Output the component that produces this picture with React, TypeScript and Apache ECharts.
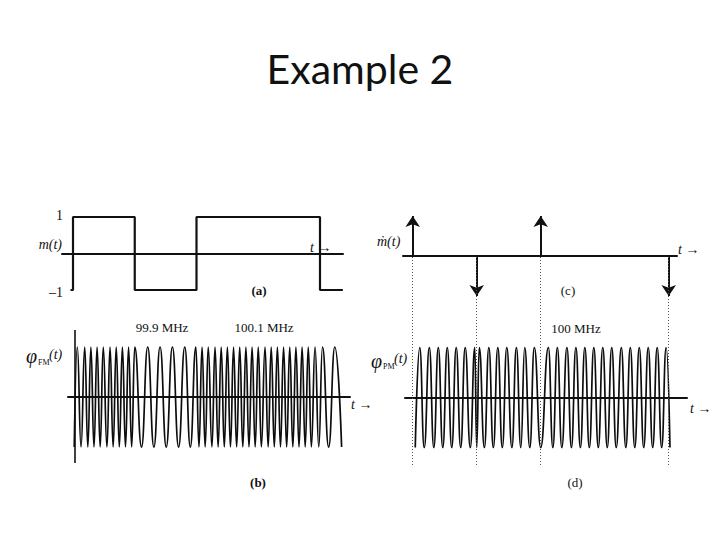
import React, { useEffect, useRef } from "react";
import * as echarts from "echarts";

// ---- Data (time in units of the message's half-period) ----
// (a) message m(t): step points (time, level)
const squareT = [-0.04, 0, 1, 2, 4, 4.37];
const squareM = [-1, 1, -1, 1, -1, -1];

// (c) derivative of m(t): impulses
const impulseT = [0, 1, 2, 4];
const impulseH = [1, -1, 1, -1];

// (b) FM waveform: times of crests (+1) and troughs (-1)
const fmTops = [
  0.07, 0.19, 0.29, 0.39, 0.49, 0.6, 0.7, 0.8, 0.9, 1.0,
  1.21, 1.41, 1.61, 1.81, 1.99,
  2.09, 2.19, 2.3, 2.4, 2.5, 2.6, 2.7, 2.8, 2.9, 3.0, 3.11, 3.21, 3.31, 3.41, 3.51, 3.61, 3.71, 3.81, 3.92,
  4.04, 4.24,
];
const fmBottoms = [
  0.02, 0.13, 0.24, 0.34, 0.44, 0.55, 0.65, 0.75, 0.85, 0.95,
  1.11, 1.31, 1.51, 1.71, 1.9,
  2.04, 2.14, 2.25, 2.35, 2.45, 2.55, 2.65, 2.75, 2.85, 2.95, 3.05, 3.16, 3.26, 3.36, 3.46, 3.56, 3.66, 3.76, 3.86, 3.98,
  4.14, 4.35,
];

// (d) PM waveform: times of crests (+1) and troughs (-1)
const pmTops = [
  0.11, 0.26, 0.4, 0.54, 0.68, 0.82, 0.97, 1.04, 1.19, 1.33, 1.47, 1.62, 1.75, 1.9,
  2.12, 2.26, 2.41, 2.55, 2.69, 2.83, 2.97, 3.11, 3.26, 3.4, 3.54, 3.68, 3.82, 3.96,
];
const pmBottoms = [
  0.04, 0.18, 0.33, 0.47, 0.61, 0.75, 0.9, 1.0, 1.12, 1.26, 1.4, 1.55, 1.69, 1.83,
  2.0, 2.19, 2.33, 2.48, 2.62, 2.76, 2.9, 3.04, 3.18, 3.33, 3.47, 3.61, 3.75, 3.89, 4.02,
];

// text
const titleText = "Example 2";
const fmFreqLabels = ["99.9 MHz", "100.1 MHz"];
const pmFreqLabel = "100 MHz";
const panelLabels = ["(a)", "(b)", "(c)", "(d)"];

// ---- layout helpers ----
const INK = "#111";
const SERIF = "'Liberation Serif', 'DejaVu Serif', serif";

function extremaSeries(tops: number[], bottoms: number[]) {
  const pts: [number, number][] = [
    ...tops.map((t) => [t, 1] as [number, number]),
    ...bottoms.map((t) => [t, -1] as [number, number]),
  ];
  pts.sort((p, q) => p[0] - q[0]);
  return pts;
}

function range(left: number, width: number, origin: number, k: number) {
  return { min: (left - origin) / k, max: (left + width - origin) / k };
}

const L = { origin: 73, k: 61.75 };
const R = { origin: 412.7, k: 64 };

const grids = [
  { left: 62, top: 209.7, width: 281, height: 87.6 }, // a
  { left: 68, top: 330, width: 282, height: 133 }, // b
  { left: 403, top: 210, width: 274, height: 90 }, // c
  { left: 405, top: 256, width: 282, height: 209 }, // d
];
const xr = [
  range(62, 281, L.origin, L.k),
  range(68, 282, L.origin, L.k),
  range(403, 274, R.origin, R.k),
  range(405, 282, R.origin, R.k),
];
const yr = [
  { min: -1.2, max: 1.2 },
  { min: -1.32, max: 1.34 },
  { min: -1.1, max: 1.15 },
  { min: -1.35, max: 2.83 },
];

function txt(
  text: string,
  x: number,
  y: number,
  size: number,
  opts: { align?: string; italic?: boolean; bold?: boolean; family?: string } = {}
) {
  return {
    type: "text",
    x,
    y,
    silent: true,
    style: {
      text,
      fill: INK,
      fontSize: size,
      fontFamily: opts.family || SERIF,
      fontStyle: opts.italic ? "italic" : "normal",
      fontWeight: opts.bold ? "bold" : "normal",
      align: opts.align || "left",
      verticalAlign: "middle",
    },
  };
}

export default function App() {
  const ref = useRef<HTMLDivElement>(null);

  useEffect(() => {
    if (!ref.current) return;
    const chart = echarts.init(ref.current, undefined, { renderer: "svg" });

    const xAxis = grids.map((_, i) => ({
      type: "value",
      gridIndex: i,
      min: xr[i].min,
      max: xr[i].max,
      axisLine: { show: true, onZero: true, lineStyle: { color: INK, width: 2 } },
      axisTick: { show: false },
      axisLabel: { show: false },
      splitLine: { show: false },
    }));
    const yAxis = grids.map((_, i) => ({
      type: "value",
      gridIndex: i,
      min: yr[i].min,
      max: yr[i].max,
      show: false,
      splitLine: { show: false },
    }));

    const option: any = {
      animation: false,
      backgroundColor: "#fff",
      grid: grids,
      xAxis,
      yAxis,
      series: [
        {
          type: "line",
          xAxisIndex: 0,
          yAxisIndex: 0,
          step: "end",
          symbol: "none",
          data: squareT.map((t, i) => [t, squareM[i]]),
          lineStyle: { color: INK, width: 2.2 },
        },
        {
          type: "line",
          xAxisIndex: 1,
          yAxisIndex: 1,
          symbol: "none",
          smooth: true,
          smoothMonotone: "x",
          data: extremaSeries(fmTops, fmBottoms),
          lineStyle: { color: "#0d0d0d", width: 1.7 },
          markLine: {
            silent: true,
            symbol: "none",
            label: { show: false },
            lineStyle: { color: INK, width: 1.6, type: "solid" },
            data: [{ xAxis: 0.03 }],
          },
        },
        {
          type: "lines",
          coordinateSystem: "cartesian2d",
          xAxisIndex: 2,
          yAxisIndex: 2,
          symbol: ["none", "arrow"],
          symbolSize: 11,
          lineStyle: { color: INK, width: 2, opacity: 1 },
          data: impulseT.map((t, i) => ({ coords: [[t, 0], [t, impulseH[i]]] })),
        },
        {
          type: "line",
          xAxisIndex: 3,
          yAxisIndex: 3,
          symbol: "none",
          smooth: true,
          smoothMonotone: "x",
          data: extremaSeries(pmTops, pmBottoms),
          lineStyle: { color: "#0d0d0d", width: 1.7 },
          markLine: {
            silent: true,
            symbol: "none",
            label: { show: false },
            lineStyle: { color: "#555", width: 1, type: [1, 2] },
            data: impulseT.map((t) => ({ xAxis: t })),
          },
        },
      ],
      graphic: [
        txt(titleText, 360, 68, 41, { align: "center", family: "Lato, 'Open Sans', sans-serif" }),
        // (a)
        txt("1", 63, 215, 14, { align: "right" }),
        txt("–1", 63, 292, 14, { align: "right" }),
        txt("m(t)", 62, 244, 14, { align: "right", italic: true }),
        txt("t →", 310, 247, 14, { italic: true }),
        txt(panelLabels[0], 259, 290, 13, { align: "center", bold: true }),
        // (b)
        txt(fmFreqLabels[0], 162, 327, 13, { align: "center" }),
        txt(fmFreqLabels[1], 264, 327, 13, { align: "center" }),
        txt("φ", 26, 356, 20, { italic: true }),
        txt("FM", 38, 362, 8),
        txt("(t)", 49, 354, 14, { italic: true }),
        txt("t →", 351, 404, 14, { italic: true }),
        txt(panelLabels[1], 258, 482, 13, { align: "center", bold: true }),
        // (c)
        txt("ṁ(t)", 377, 241, 14, { italic: true }),
        txt("t →", 678, 249, 14, { italic: true }),
        txt(panelLabels[2], 568, 290, 13, { align: "center" }),
        // (d)
        txt(pmFreqLabel, 576, 328, 13, { align: "center" }),
        txt("φ", 371, 361, 20, { italic: true }),
        txt("PM", 383, 366, 8),
        txt("(t)", 394, 358, 14, { italic: true }),
        txt("t →", 690, 408, 14, { italic: true }),
        txt(panelLabels[3], 575, 482, 13, { align: "center" }),
      ],
    };

    chart.setOption(option);
    return () => chart.dispose();
  }, []);

  return (
    <div
      ref={ref}
      style={{ position: "absolute", left: 0, top: 0, width: 720, height: 540, background: "#fff" }}
    />
  );
}
